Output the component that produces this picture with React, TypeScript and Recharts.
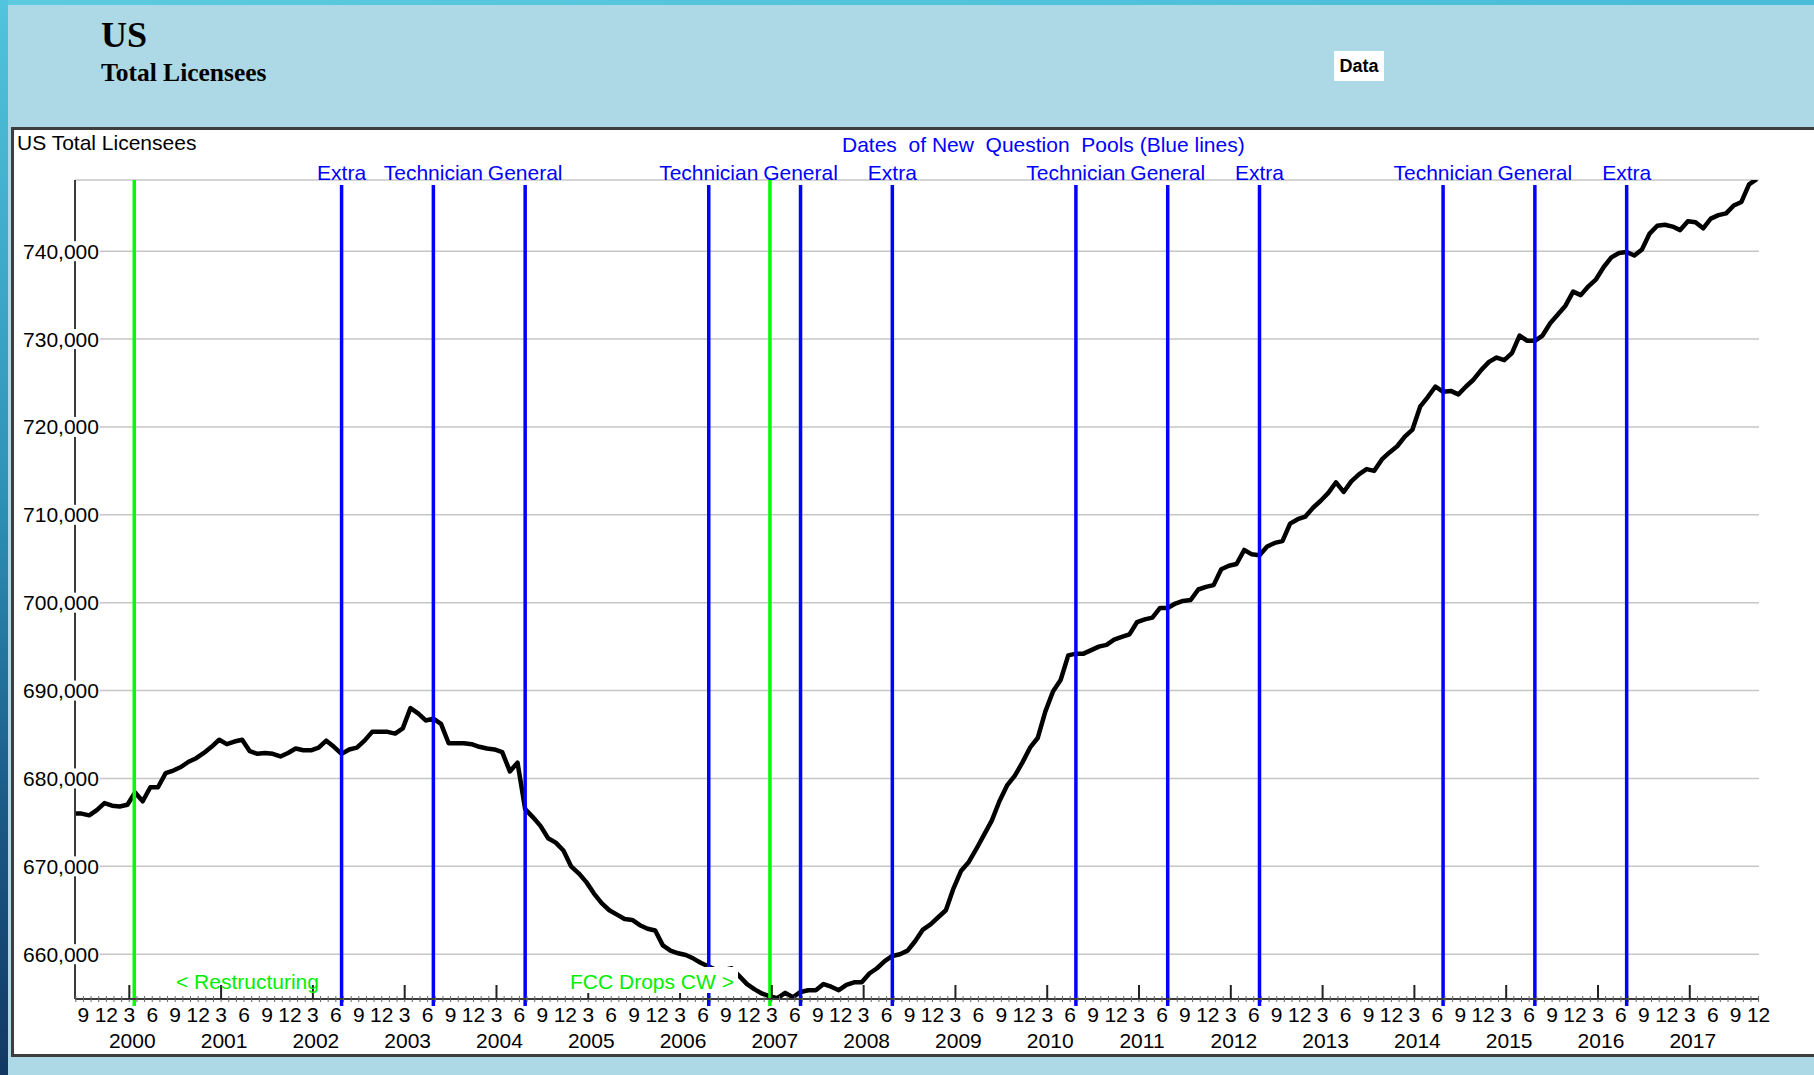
import React from "react";
import { LineChart, Line, XAxis, YAxis, CartesianGrid, ReferenceLine } from "recharts";

// Monthly US total licensees, in thousands
const Y1999 = [676.0, 676.0, 675.8, 676.4, 677.2]; // Aug-Dec
const Y2000 = [676.9, 676.8, 677.0, 678.4, 677.4, 679.0, 679.0, 680.6, 680.9, 681.3, 681.9, 682.3];
const Y2001 = [682.9, 683.6, 684.4, 683.9, 684.2, 684.4, 683.1, 682.8, 682.9, 682.8, 682.5, 682.9];
const Y2002 = [683.4, 683.2, 683.2, 683.5, 684.3, 683.6, 682.8, 683.3, 683.5, 684.3, 685.3, 685.3];
const Y2003 = [685.3, 685.1, 685.7, 688.0, 687.4, 686.6, 686.8, 686.2, 684.0, 684.0, 684.0, 683.9];
const Y2004 = [683.6, 683.4, 683.3, 683.0, 680.8, 681.8, 676.5, 675.6, 674.6, 673.2, 672.7, 671.8];
const Y2005 = [670.0, 669.2, 668.2, 666.9, 665.8, 665.0, 664.5, 664.0, 663.9, 663.3, 662.9, 662.7];
const Y2006 = [661.0, 660.4, 660.1, 659.9, 659.5, 659.0, 658.6, 658.2, 658.2, 658.4, 657.5, 656.6];
const Y2007 = [656.0, 655.5, 655.2, 655.0, 655.6, 655.1, 655.7, 655.9, 655.9, 656.6, 656.3, 655.9];
const Y2008 = [656.5, 656.8, 656.8, 657.8, 658.4, 659.2, 659.8, 660.0, 660.4, 661.5, 662.8, 663.4];
const Y2009 = [664.2, 665.0, 667.5, 669.5, 670.5, 672.0, 673.6, 675.2, 677.4, 679.2, 680.3, 681.8];
const Y2010 = [683.5, 684.6, 687.6, 689.9, 691.2, 694.0, 694.2, 694.2, 694.6, 695.0, 695.2, 695.8];
const Y2011 = [696.1, 696.4, 697.8, 698.1, 698.3, 699.4, 699.4, 699.9, 700.2, 700.3, 701.5, 701.8];
const Y2012 = [702.0, 703.8, 704.2, 704.4, 706.0, 705.5, 705.4, 706.4, 706.8, 707.0, 709.0, 709.5];
const Y2013 = [709.8, 710.8, 711.6, 712.5, 713.7, 712.6, 713.8, 714.6, 715.2, 715.0, 716.3, 717.1];
const Y2014 = [717.8, 718.9, 719.7, 722.3, 723.4, 724.6, 724.0, 724.1, 723.7, 724.6, 725.4, 726.5];
const Y2015 = [727.4, 727.9, 727.6, 728.4, 730.4, 729.8, 729.8, 730.4, 731.8, 732.8, 733.8, 735.4];
const Y2016 = [735.0, 736.0, 736.8, 738.2, 739.3, 739.8, 739.9, 739.5, 740.2, 742.0, 742.9, 743.0];
const Y2017 = [742.8, 742.4, 743.4, 743.3, 742.6, 743.7, 744.1, 744.3, 745.2, 745.6, 747.6, 748.2];

const DATA_YEARS = [1999, 2000, 2001, 2002, 2003, 2004, 2005, 2006, 2007, 2008, 2009, 2010, 2011, 2012, 2013, 2014, 2015, 2016, 2017];
const DATA_VALUES = [Y1999, Y2000, Y2001, Y2002, Y2003, Y2004, Y2005, Y2006, Y2007, Y2008, Y2009, Y2010, Y2011, Y2012, Y2013, Y2014, Y2015, Y2016, Y2017];
const FIRST_MONTH_1999 = 7; // August (0-based)

// Y axis
const Y_TICKS = [660000, 670000, 680000, 690000, 700000, 710000, 720000, 730000, 740000];
const Y_DOMAIN = [654900, 748100];

// X axis (months since Jan 2000)
const X_DOMAIN = [-4.85, 215.3];
const MONTH_LABELS = ["3", "6", "9", "12"];
const YEAR_LABELS = ["2000", "2001", "2002", "2003", "2004", "2005", "2006", "2007", "2008", "2009", "2010", "2011", "2012", "2013", "2014", "2015", "2016", "2017"];

// Question pool dates (blue lines), months since Jan 2000
const POOL_MONTHS = [30, 42, 54, 78, 90, 102, 126, 138, 150, 174, 186, 198];
const POOL_LABELS = ["Extra", "Technician", "General", "Technician", "General", "Extra", "Technician", "General", "Extra", "Technician", "General", "Extra"];

// Green lines (restructuring, FCC drops CW)
const GREEN_MONTHS = [2.9, 86];

const SANS = "'Liberation Sans', Arial, sans-serif";
const SERIF = "'Liberation Serif', 'Times New Roman', serif";

const chartData: { m: number; value: number }[] = [];
DATA_VALUES.forEach((vals, i) => {
  const year = DATA_YEARS[i];
  const start = year === 1999 ? FIRST_MONTH_1999 : 0;
  vals.forEach((v, j) => {
    chartData.push({ m: (year - 2000) * 12 + start + j, value: Math.round(v * 1000) });
  });
});

const minorTicks: number[] = [];
for (let t = -4.75; t <= X_DOMAIN[1]; t += 1) minorTicks.push(t);

const MonthTick = (props: any) => {
  const { x, y, payload } = props;
  const v = payload.value;
  const q = (v - 2.25) / 3;
  const qi = Math.round(q);
  const isLabel = Math.abs(q - qi) < 1e-6;
  const isYear = isLabel && ((qi % 4) + 4) % 4 === 0;
  const yearIdx = Math.round((v - 2.25) / 12);
  return (
    <g>
      <line x1={x} x2={x} y1={y - 3} y2={y + 3} stroke="#666" strokeWidth={1} />
      {isYear && <line x1={x} x2={x} y1={y - 14} y2={y} stroke="#222" strokeWidth={2} />}
      {isLabel && (
        <text x={x} y={y + 23} textAnchor="middle" fontFamily={SANS} fontSize={21} fill="#000">
          {MONTH_LABELS[((qi % 4) + 4) % 4]}
        </text>
      )}
      {isYear && YEAR_LABELS[yearIdx] && (
        <text x={x + 3} y={y + 49} textAnchor="middle" fontFamily={SANS} fontSize={21} fill="#000">
          {YEAR_LABELS[yearIdx]}
        </text>
      )}
    </g>
  );
};

const ValueTick = (props: any) => {
  const { x, y, payload } = props;
  return (
    <g>
      <rect x={x - 53} y={y - 10} width={78} height={20} fill="#fff" />
      <text x={x - 14} y={y + 7.5} textAnchor="middle" fontFamily={SANS} fontSize={21} fill="#000">
        {Number(payload.value).toLocaleString("en-US")}
      </text>
    </g>
  );
};

const txt = (extra: React.CSSProperties): React.CSSProperties => ({
  position: "absolute",
  fontFamily: SANS,
  fontSize: 21,
  lineHeight: "24px",
  whiteSpace: "pre",
  ...extra,
});

export default function App() {
  return (
    <div style={{ position: "absolute", left: 0, top: 0, width: 1814, height: 1075, overflow: "hidden", background: "#ADD8E6" }}>
      <div style={{ position: "absolute", left: 0, top: 0, width: 1814, height: 5, background: "linear-gradient(to right, #5ccbdf, #48bcd8)" }} />
      <div style={{ position: "absolute", left: 0, top: 0, width: 8, height: 1075, background: "linear-gradient(to bottom, #52c4dc, #2f93b8 45%, #1b5a86 75%, #123863)" }} />
      <div style={{ position: "absolute", left: 101, top: 13, fontFamily: SERIF, fontWeight: "bold", fontSize: 36, lineHeight: "44px", color: "#000" }}>US</div>
      <div style={{ position: "absolute", left: 101, top: 58, fontFamily: SERIF, fontWeight: "bold", fontSize: 25.5, lineHeight: "30px", color: "#000" }}>Total Licensees</div>
      <div style={{ position: "absolute", left: 1334, top: 51, width: 50, height: 30, background: "#fff", fontFamily: SANS, fontWeight: "bold", fontSize: 18, lineHeight: "30px", textAlign: "center", color: "#000" }}>Data</div>
      <div style={{ position: "absolute", left: 11, top: 127, width: 1830, height: 930, boxSizing: "border-box", background: "#fff", border: "3px solid #3e3e3e" }} />
      <LineChart
        width={1814}
        height={1075}
        data={chartData}
        margin={{ top: 180, right: 55, bottom: 0, left: 0 }}
        style={{ position: "absolute", left: 0, top: 0 }}
      >
        <CartesianGrid horizontal vertical={false} stroke="#c6c6c6" strokeWidth={1.5} />
        <XAxis
          type="number"
          dataKey="m"
          domain={X_DOMAIN}
          ticks={minorTicks}
          interval={0}
          height={76}
          tickSize={0}
          tickMargin={0}
          tickLine={false}
          allowDataOverflow
          axisLine={{ stroke: "#3a3a3a", strokeWidth: 2 }}
          tick={(p: any) => <MonthTick {...p} />}
        />
        <YAxis
          type="number"
          domain={Y_DOMAIN}
          ticks={Y_TICKS}
          interval={0}
          width={75}
          tickSize={0}
          tickMargin={0}
          tickLine={false}
          allowDataOverflow
          axisLine={{ stroke: "#3a3a3a", strokeWidth: 2 }}
          tick={(p: any) => <ValueTick {...p} />}
        />
        <Line
          type="linear"
          dataKey="value"
          stroke="#000"
          strokeWidth={4.5}
          dot={false}
          strokeLinejoin="round"
          isAnimationActive={false}
        />
        {GREEN_MONTHS.map((gm, i) => (
          <ReferenceLine
            key={"g" + i}
            segment={[{ x: gm, y: 748100 }, { x: gm, y: 654100 }]}
            ifOverflow="visible"
            stroke="#00ff00"
            strokeWidth={3.5}
          />
        ))}
        {POOL_MONTHS.map((pm, i) => (
          <ReferenceLine
            key={"b" + i}
            segment={[{ x: pm, y: 747530 }, { x: pm, y: 654100 }]}
            ifOverflow="visible"
            stroke="#0000ff"
            strokeWidth={3.5}
            label={{ value: POOL_LABELS[i], position: "top", offset: 5, fill: "#0000ff", fontSize: 21, fontFamily: SANS }}
          />
        ))}
      </LineChart>
      <div style={txt({ left: 17, top: 131, color: "#000" })}>US Total Licensees</div>
      <div style={txt({ left: 842, top: 133, color: "#0000ff" })}>{"Dates  of New  Question  Pools (Blue lines)"}</div>
      <div style={txt({ left: 176, top: 970, color: "#00ee00" })}>{"< Restructuring"}</div>
      <div style={txt({ left: 566, top: 967, height: 26, paddingTop: 3, paddingLeft: 4, paddingRight: 4, boxSizing: "border-box", background: "#fff", color: "#00ee00" })}>{"FCC Drops CW >"}</div>
    </div>
  );
}
